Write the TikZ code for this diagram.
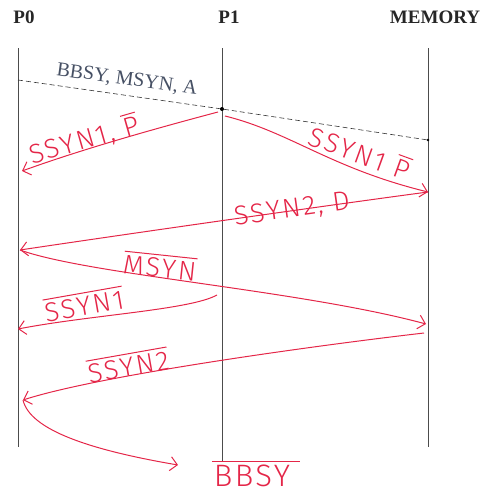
\documentclass[tikz,border=0pt]{standalone}
\usepackage{fontspec}
\setmainfont{Liberation Serif}
\newfontfamily\handfont{Fira Sans Light}[LetterSpace=8]
\usetikzlibrary{arrows.meta,calc}
\definecolor{penred}{RGB}{228,38,72}
\definecolor{inkgray}{RGB}{70,80,100}
\newcommand{\ovl}[1]{\leavevmode\vbox{\hrule height 1pt\kern 3pt\hbox{#1}}}
\tikzset{
  hdr/.style={font=\fontsize{19}{22}\selectfont\bfseries,text=black!85},
  life/.style={draw=black!70,line width=0.6pt},
  busline/.style={draw=black!80,dash pattern=on 5pt off 3pt,line width=0.6pt},
  bustxt/.style={font=\fontsize{20}{22}\selectfont,text=inkgray,inner sep=1pt},
  pen/.style={draw=penred,line width=1pt,-{Straight Barb[length=7pt,width=14pt]}},
  pentxt/.style={font=\handfont\fontsize{27}{30}\selectfont,text=penred,inner sep=1pt}
}

\begin{document}
\begin{tikzpicture}[x=1pt,y=-1pt]
  \useasboundingbox (0,0) rectangle (489,498);
  % Headers
  \node[hdr] (h0) at (24,17) {P0};
  \node[hdr] (h1) at (229,17) {P1};
  \node[hdr] (hm) at (435,17) {MEMORY};

  % Lifelines
  \coordinate (p0top) at (18,48);
  \coordinate (p0bot) at (18,447);
  \coordinate (p1top) at (222,48);
  \coordinate (memtop) at (428,48);
  \coordinate (membot) at (428,447);
  \node[pentxt,inner sep=0pt,font=\handfont\fontsize{31}{34}\selectfont] (bbsy) at (256,474) {\ovl{\hspace{2pt}BBSY\hspace{10pt}}};
  \draw[life] (p0top) -- (p0bot);
  \draw[life] (p1top) -- (p1top |- bbsy.north);
  \draw[life] (memtop) -- (membot);

  % Address cycle
  \coordinate (a0) at (18,80);
  \coordinate (a1) at (222,109);
  \coordinate (a2) at (428,140);
  \draw[busline] (a0) -- (a1) -- (a2);
  \fill (a1) circle (2pt);
  \fill (a2) circle (1.3pt);
  \node[bustxt,rotate=-8] (addr) at (127,80) {BBSY, MSYN, A};

  % Handshake events
  \coordinate (e1) at (22,171);
  \coordinate (e2) at (428,192);
  \coordinate (e3) at (20,250);
  \coordinate (e4) at (426,324);
  \coordinate (s5) at (217,295);
  \coordinate (e5) at (18,329);
  \coordinate (s6) at (424,333);
  \coordinate (e6) at (23,400);
  \coordinate (e7) at (178,465);

  \draw[pen] ($(a1)+(-4,3)$) .. controls (150,130) and (80,150) .. (e1);
  \draw[pen] ($(a1)+(3,7)$) .. controls (290,132) and (330,168) .. (e2);
  \draw[pen] (e2) .. controls (330,205) and (120,235) .. (e3);
  \draw[pen] (e3) .. controls (90,275) and (300,290) .. (e4);
  \draw[pen] (s5) .. controls (190,310) and (90,315) .. (e5);
  \draw[pen] (s6) .. controls (320,345) and (100,375) .. (e6);
  \draw[pen] (e6) .. controls (30,430) and (90,450) .. (e7);

  % Handwritten labels
  \node[pentxt,rotate=16] (l1) at (84,140) {SSYN1, \ovl{P}};
  \node[pentxt,rotate=-20] (l2) at (360,152) {SSYN1 \ovl{P}};
  \node[pentxt,rotate=8] (l3) at (292,210) {SSYN2, D};
  \node[pentxt,rotate=-6] (l4) at (160,266) {\ovl{MSYN}};
  \node[pentxt,rotate=10] (l5) at (84,304) {\ovl{SSYN1}};
  \node[pentxt,rotate=10] (l6) at (128,365) {\ovl{SSYN2}};
\end{tikzpicture}
\end{document}
